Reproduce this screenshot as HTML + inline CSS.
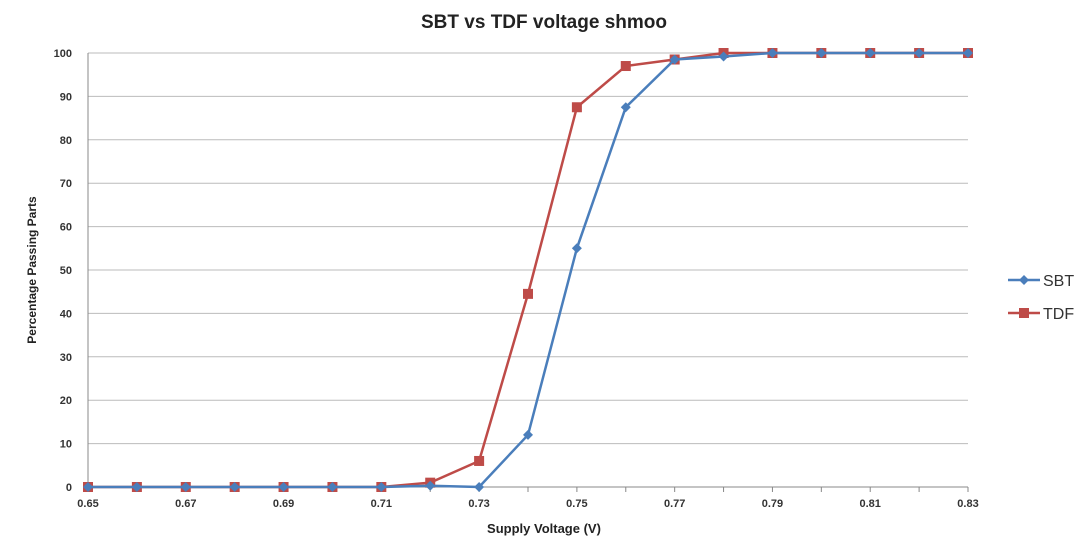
<!DOCTYPE html>
<html><head><meta charset="utf-8"><style>
body{margin:0;background:#fff;font-family:"Liberation Sans",sans-serif}
svg text{font-family:"Liberation Sans",sans-serif}
</style></head><body>
<svg width="1087" height="543">
<text x="544" y="28" text-anchor="middle" font-size="19" font-weight="bold" fill="#222">SBT vs TDF voltage shmoo</text>
<g id="grid"></g><g id="axes"></g><g id="series"></g>
<text x="544" y="533" text-anchor="middle" font-size="13" font-weight="bold" fill="#222">Supply Voltage (V)</text>
<text transform="translate(36,270) rotate(-90)" text-anchor="middle" font-size="12" font-weight="bold" fill="#222">Percentage Passing Parts</text>
<g>
<g><line x1="1008" y1="280" x2="1040" y2="280" stroke="#4a7ebb" stroke-width="2.5"/><path d="M1024 275 L1029 280 L1024 285 L1019 280Z" fill="#4a7ebb"/><text x="1043" y="286" font-size="16" fill="#333">SBT</text></g>
<g><line x1="1008" y1="313" x2="1040" y2="313" stroke="#be4b48" stroke-width="2.5"/><rect x="1019" y="308" width="10" height="10" fill="#be4b48"/><text x="1043" y="319" font-size="16" fill="#333">TDF</text></g>
</g>
</svg>
<script>
const voltages=[0.65,0.66,0.67,0.68,0.69,0.70,0.71,0.72,0.73,0.74,0.75,0.76,0.77,0.78,0.79,0.80,0.81,0.82,0.83];
const sbtValues=[0,0,0,0,0,0,0,0.3,0,12,55,87.5,98.5,99.2,100,100,100,100,100];
const tdfValues=[0,0,0,0,0,0,0,1,6,44.5,87.5,97,98.5,100,100,100,100,100,100];
const yTicks=[0,10,20,30,40,50,60,70,80,90,100];
const xTickLabels=["0.65","0.67","0.69","0.71","0.73","0.75","0.77","0.79","0.81","0.83"];
const X0=88,X1=968,Y0=487,Y1=53;
const xs=v=>X0+(v-0.65)/0.18*(X1-X0);
const ys=v=>Y0-(v/100)*(Y0-Y1);
const NS="http://www.w3.org/2000/svg";
function mk(t,a,p){const e=document.createElementNS(NS,t);for(const k in a)e.setAttribute(k,a[k]);p.appendChild(e);return e;}
const grid=document.getElementById('grid'),axes=document.getElementById('axes'),ser=document.getElementById('series');
yTicks.forEach(t=>{
 const l=mk('line',{x1:X0,x2:X1,y1:ys(t),y2:ys(t),stroke:t===0?'#888':'#bbb','stroke-width':1},grid);
 
 
 const tx=mk('text',{x:X0-16,y:ys(t)+4,'text-anchor':'end','font-size':11,'font-weight':'bold',fill:'#333'},axes);
 tx.textContent=t;
 
 
});
const ya=mk('line',{x1:X0,x2:X0,y1:Y1,y2:Y0,stroke:'#888'},axes);


voltages.forEach(v=>{mk('line',{x1:xs(v),x2:xs(v),y1:Y0,y2:Y0+5,stroke:'#888'},axes);});
xTickLabels.forEach(s=>{
 const tx=mk('text',{x:xs(parseFloat(s)),y:Y0+20,'text-anchor':'middle','font-size':11,'font-weight':'bold',fill:'#333'},axes);
 tx.textContent=s;
 
 
});
function series(vals,color,name,marker){
 const g=mk('g',{},ser);
 
 
 const pl=mk('polyline',{points:vals.map((v,i)=>xs(voltages[i])+','+ys(v)).join(' '),fill:'none',stroke:color,'stroke-width':2.5},g);
 
 
 vals.forEach((v,i)=>{
  const x=xs(voltages[i]),y=ys(v);
  let m;
  if(marker==='sq')m=mk('rect',{x:x-5,y:y-5,width:10,height:10,fill:color},g);
  else m=mk('path',{d:`M${x} ${y-5}L${x+5} ${y}L${x} ${y+5}L${x-5} ${y}Z`,fill:color},g);
  
  
 });
}
series(tdfValues,'#be4b48','tdf','sq');
series(sbtValues,'#4a7ebb','sbt','dia');
</script>
</body></html>
